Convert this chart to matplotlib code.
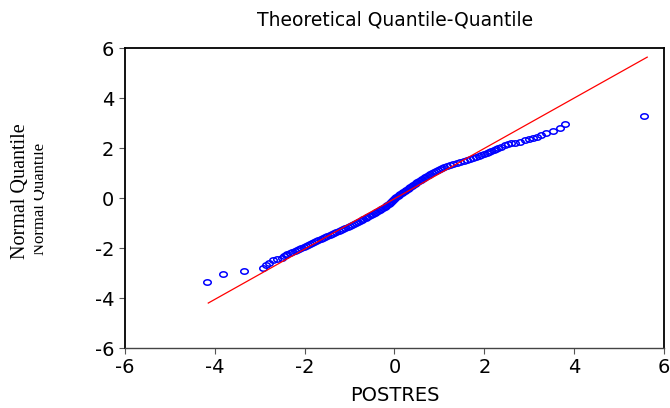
import numpy as np
import matplotlib
matplotlib.use("Agg")
import matplotlib.pyplot as plt
from matplotlib.path import Path
from matplotlib.patches import Rectangle

# sorted residuals (POSTRES) against their theoretical normal quantiles
left_tail_x = [-4.16, -3.81, -3.35, -2.92, -2.86, -2.78, -2.69, -2.62, -2.51, -2.45, -2.42]
left_tail_y = [-3.37, -3.05, -2.91, -2.79, -2.68, -2.59, -2.48, -2.44, -2.41, -2.30, -2.26]

body_y = [-2.22, -2.18, -2.14, -2.10, -2.06, -2.02, -1.98, -1.94, -1.90, -1.86,
          -1.82, -1.78, -1.74, -1.70, -1.66, -1.62, -1.58, -1.54, -1.50, -1.46,
          -1.42, -1.38, -1.34, -1.30, -1.26, -1.22, -1.18, -1.14, -1.10, -1.06,
          -1.02, -0.98, -0.94, -0.90, -0.86, -0.82, -0.78, -0.74, -0.70, -0.66,
          -0.62, -0.58, -0.54, -0.50, -0.46, -0.42, -0.38, -0.34, -0.30, -0.26,
          -0.22, -0.18, -0.14, -0.10, -0.06, -0.02, 0.02, 0.06, 0.10, 0.14,
          0.18, 0.22, 0.26, 0.30, 0.34, 0.38, 0.42, 0.46, 0.50, 0.54,
          0.58, 0.62, 0.66, 0.70, 0.74, 0.78, 0.82, 0.86, 0.90, 0.94,
          0.98, 1.02, 1.06, 1.10, 1.14, 1.18, 1.22, 1.26, 1.30, 1.34,
          1.38, 1.42, 1.46, 1.50, 1.54, 1.58, 1.62, 1.66, 1.70, 1.74,
          1.78, 1.82, 1.86, 1.90, 1.94, 1.98, 2.02, 2.06]
body_x = [-2.38, -2.32, -2.27, -2.22, -2.17, -2.12, -2.07, -2.02, -1.97, -1.93,
          -1.88, -1.83, -1.79, -1.74, -1.69, -1.64, -1.59, -1.54, -1.49, -1.44,
          -1.39, -1.34, -1.29, -1.24, -1.19, -1.14, -1.09, -1.04, -0.99, -0.94,
          -0.90, -0.86, -0.82, -0.77, -0.73, -0.69, -0.64, -0.60, -0.56, -0.52,
          -0.48, -0.44, -0.40, -0.37, -0.33, -0.29, -0.26, -0.22, -0.19, -0.16,
          -0.13, -0.10, -0.07, -0.05, -0.03, -0.01, 0.01, 0.04, 0.07, 0.10,
          0.13, 0.16, 0.20, 0.23, 0.26, 0.29, 0.32, 0.35, 0.38, 0.42,
          0.45, 0.48, 0.51, 0.55, 0.58, 0.62, 0.65, 0.69, 0.72, 0.76,
          0.80, 0.84, 0.88, 0.92, 0.96, 1.01, 1.05, 1.10, 1.17, 1.24,
          1.31, 1.39, 1.46, 1.54, 1.61, 1.68, 1.75, 1.81, 1.87, 1.93,
          1.99, 2.05, 2.10, 2.15, 2.21, 2.26, 2.31, 2.36]

right_tail_x = [2.45, 2.53, 2.60, 2.68, 2.79, 2.90, 3.00, 3.08, 3.16, 3.25, 3.38, 3.53, 3.69, 3.80, 5.55]
right_tail_y = [2.12, 2.17, 2.19, 2.21, 2.25, 2.31, 2.36, 2.41, 2.45, 2.53, 2.61, 2.69, 2.81, 2.97, 3.29]

# reference line through the quantiles
line_x = [-4.14, 5.62]
line_y = [-4.20, 5.64]

ticks = [-6, -4, -2, 0, 2, 4, 6]

x = np.array(left_tail_x + body_x + right_tail_x)
y = np.array(left_tail_y + body_y + right_tail_y)

plt.rcParams['axes.unicode_minus'] = False
sans = ['DejaVu Sans']
serif = ['Liberation Serif', 'DejaVu Serif']

# flattened open circle, like the EViews marker
t = np.linspace(0, 2 * np.pi, 40)
ellipse = Path(np.column_stack([np.cos(t), 0.72 * np.sin(t)]), closed=True)

fig = plt.figure(figsize=(6.7, 4.08), dpi=100)
ax = fig.add_axes([0.186, 0.147, 0.8055, 0.735])

ax.plot(line_x, line_y, color='red', lw=0.9, zorder=3)
ax.plot(x, y, ls='none', marker=ellipse, ms=5.4, mfc='none', mec='blue', mew=1.1, zorder=2)

ax.set_xlim(-6, 6)
ax.set_ylim(-6, 6)
ax.set_xticks(ticks)
ax.set_yticks(ticks)
ax.tick_params(direction='out', length=4.5, width=0.8, pad=3, labelsize=14, color='#555555')
for lab in ax.get_xticklabels() + ax.get_yticklabels():
    lab.set_family(sans)

for side in ['left', 'right', 'top']:
    ax.spines[side].set_linewidth(1.3)
    ax.spines[side].set_color('black')
ax.spines['bottom'].set_linewidth(1.0)
ax.spines['bottom'].set_color('#444444')

ax.set_xlabel('POSTRES', family=sans, fontsize=14, labelpad=6)
fig.text(0.5895, 1 - 20 / 408, 'Theoretical Quantile-Quantile', family=sans,
         fontsize=13.5, ha='center', va='center')

# y label drawn twice, the second one partly hidden
fig.text(21 / 670, 1 - 191 / 408, 'Normal Quantile', family=serif, fontsize=14.5,
         rotation=90, ha='center', va='center')
ghost = fig.text(39 / 670, 1 - 199 / 408, 'Normal Quantile', family=serif, fontsize=12,
                 rotation=90, ha='center', va='center')
clip = Rectangle((34 / 670, 0), 10 / 670, 1, transform=fig.transFigure, visible=False)
fig.add_artist(clip)
ghost.set_clip_path(clip)

fig.savefig('out.png', dpi=100)
